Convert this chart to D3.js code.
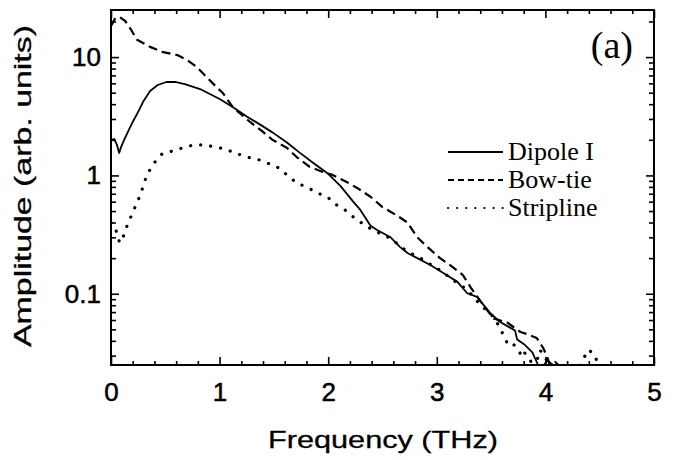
<!DOCTYPE html>
<html>
<head>
<meta charset="utf-8">
<script src="https://cdn.jsdelivr.net/npm/d3@7"></script>
<style>
  body { margin: 0; background: #fff; }
  svg { display: block; }
  .tick text { font-family: "Liberation Sans", Arial, sans-serif; }
</style>
</head>
<body>
<svg id="chart" width="673" height="460"></svg>
<script>
// frequency (THz) and amplitude (arb. units)
var dipoleF = [0, 0.03, 0.055, 0.075, 0.09, 0.12, 0.16, 0.2, 0.25, 0.3, 0.36, 0.43, 0.51, 0.59, 0.68, 0.82,
  1.0, 1.12, 1.25, 1.37, 1.49, 1.62, 1.74, 1.86, 1.99, 2.11, 2.23, 2.29, 2.39, 2.45, 2.57, 2.66, 2.73,
  2.82, 2.94, 3.06, 3.19, 3.28, 3.37, 3.49, 3.58, 3.67, 3.72, 3.74, 3.81, 3.88, 3.92, 3.95, 4.02, 4.07, 4.13, 4.2, 5];
var dipoleA = [1.99, 2.03, 1.81, 1.55, 1.71, 1.99, 2.38, 2.83, 3.44, 4.26, 5.17, 5.81, 6.16, 6.16, 5.92, 5.37,
  4.43, 3.79, 3.15, 2.7, 2.3, 1.9, 1.55, 1.28, 1.05, 0.82, 0.6, 0.52, 0.375, 0.346, 0.302, 0.249, 0.221,
  0.2, 0.175, 0.15, 0.126, 0.101, 0.094, 0.069, 0.058, 0.052, 0.049, 0.041, 0.037, 0.032, 0.0265, 0.023, 0.0272, 0.025, 0.023, 0.02, 0.02];

var bowtieF = [0, 0.04, 0.08, 0.13, 0.175, 0.24, 0.36, 0.48, 0.61, 0.7, 0.79, 0.88, 0.98, 1.03, 1.12, 1.28,
  1.4, 1.49, 1.62, 1.71, 1.83, 1.95, 2.04, 2.17, 2.27, 2.39, 2.5, 2.63, 2.73, 2.82, 2.91, 3.03, 3.12,
  3.24, 3.31, 3.4, 3.52, 3.65, 3.77, 3.83, 3.92, 3.98, 4.02, 4.04, 4.09, 4.13, 4.23, 5];
var bowtieA = [18.3, 21.4, 21.8, 20.2, 17.6, 14.0, 12.2, 11.0, 10.4, 9.46, 8.25, 6.79, 5.48, 4.97, 3.79, 2.83,
  2.33, 1.99, 1.71, 1.43, 1.18, 1.07, 1.01, 0.88, 0.78, 0.66, 0.54, 0.46, 0.4, 0.3, 0.25, 0.2, 0.175,
  0.144, 0.114, 0.087, 0.062, 0.057, 0.0475, 0.0457, 0.0423, 0.0348, 0.0286, 0.025, 0.0265, 0.0245, 0.023, 0.02];

var striplineF = [0, 0.045, 0.08, 0.12, 0.15, 0.19, 0.23, 0.27, 0.3, 0.33, 0.39, 0.47, 0.57, 0.66, 0.76, 0.86,
  0.96, 1.05, 1.14, 1.25, 1.34, 1.44, 1.53, 1.62, 1.71, 1.8, 1.9, 1.99, 2.08, 2.17, 2.25, 2.32, 2.41,
  2.57, 2.73, 2.85, 3.03, 3.19, 3.28, 3.4, 3.52, 3.58, 3.65, 3.69, 3.75, 3.79, 3.81, 3.86, 3.9, 3.95,
  4.0, 4.06, 4.32, 4.39, 4.44, 4.48, 4.52, 5];
var striplineA = [0.4, 0.346, 0.269, 0.314, 0.381, 0.463, 0.563, 0.684, 0.831, 1.01, 1.25, 1.52, 1.61, 1.71, 1.81, 1.81,
  1.74, 1.67, 1.55, 1.43, 1.38, 1.27, 1.18, 1.01, 0.86, 0.8, 0.71, 0.66, 0.56, 0.5, 0.43, 0.39, 0.346,
  0.296, 0.226, 0.2, 0.158, 0.123, 0.108, 0.081, 0.064, 0.052, 0.038, 0.039, 0.0335, 0.029, 0.0316, 0.0275, 0.023, 0.0335,
  0.0286, 0.023, 0.0245, 0.0335, 0.0316, 0.0265, 0.023, 0.02];

var xTicks = [0, 1, 2, 3, 4, 5];
var yTicks = [0.1, 1, 10];
var legendNames = ["Dipole I", "Bow-tie", "Stripline"];

(function() {
var svg = d3.select("#chart");
var left = 111, right = 654, top = 10, bottom = 365;

var x = d3.scaleLinear().domain([0, 5]).range([left, right]);
var y = d3.scaleLog().domain([0.025, 25]).range([bottom, top]);

var xMinor = d3.range(0, 5.001, 0.2).filter(function(d) { return Math.abs(d - Math.round(d)) > 0.01; });
var yMinor = [];
[0.01, 0.1, 1, 10].forEach(function(p) {
  for (var k = 2; k <= 9; k++) {
    var v = k * p;
    if (v >= 0.025 && v <= 25) yMinor.push(v);
  }
});

svg.append("clipPath").attr("id", "plot")
  .append("rect").attr("x", left).attr("y", top).attr("width", right - left).attr("height", bottom - top);

function styleAxis(g) {
  g.select(".domain").remove();
  g.selectAll("line").attr("stroke", "#000").attr("stroke-width", 1.6);
}

function styleLabels(sel) {
  sel.attr("font-size", 26).attr("fill", "#000").attr("stroke", "#000").attr("stroke-width", 0.5);
}

// ticks on all four sides, pointing inward
svg.append("g").attr("transform", "translate(0," + bottom + ")")
  .call(d3.axisBottom(x).tickValues(xTicks).tickSize(-8).tickPadding(18).tickFormat(d3.format("d")))
  .call(styleAxis)
  .selectAll("text").call(styleLabels);
svg.append("g").attr("transform", "translate(0," + bottom + ")")
  .call(d3.axisBottom(x).tickValues(xMinor).tickSize(-4).tickFormat(""))
  .call(styleAxis);
svg.append("g").attr("transform", "translate(0," + top + ")")
  .call(d3.axisTop(x).tickValues(xTicks).tickSize(-8).tickFormat(""))
  .call(styleAxis);
svg.append("g").attr("transform", "translate(0," + top + ")")
  .call(d3.axisTop(x).tickValues(xMinor).tickSize(-4).tickFormat(""))
  .call(styleAxis);

svg.append("g").attr("transform", "translate(" + left + ",0)")
  .call(d3.axisLeft(y).tickValues(yTicks).tickSize(-8).tickPadding(10).tickFormat(function(d) { return d < 1 ? "0.1" : d3.format("d")(d); }))
  .call(styleAxis)
  .selectAll("text").call(styleLabels);
svg.append("g").attr("transform", "translate(" + left + ",0)")
  .call(d3.axisLeft(y).tickValues(yMinor).tickSize(-5).tickFormat(""))
  .call(styleAxis);
svg.append("g").attr("transform", "translate(" + right + ",0)")
  .call(d3.axisRight(y).tickValues(yTicks).tickSize(-8).tickFormat(""))
  .call(styleAxis);
svg.append("g").attr("transform", "translate(" + right + ",0)")
  .call(d3.axisRight(y).tickValues(yMinor).tickSize(-5).tickFormat(""))
  .call(styleAxis);

svg.append("rect")
  .attr("x", left).attr("y", top).attr("width", right - left).attr("height", bottom - top)
  .attr("fill", "none").attr("stroke", "#000").attr("stroke-width", 2);

var line = d3.line()
  .x(function(d) { return x(d[0]); })
  .y(function(d) { return y(d[1]); });

var series = [
  { f: dipoleF, a: dipoleA, dash: null, width: 1.8, cap: "butt" },
  { f: bowtieF, a: bowtieA, dash: "9,5", width: 2.2, cap: "butt" },
  { f: striplineF, a: striplineA, dash: "0.1,10", width: 3.2, cap: "round" }
];

var curves = svg.append("g").attr("clip-path", "url(#plot)");
series.forEach(function(s) {
  curves.append("path")
    .datum(d3.zip(s.f, s.a))
    .attr("d", line)
    .attr("fill", "none")
    .attr("stroke", "#000")
    .attr("stroke-width", s.width)
    .attr("stroke-linecap", s.cap)
    .attr("stroke-linejoin", "round")
    .attr("stroke-dasharray", s.dash);
});

// legend
var legend = svg.append("g");
legendNames.forEach(function(name, i) {
  var s = series[i], ly = 152 + i * 28;
  legend.append("line")
    .attr("x1", 448).attr("x2", 503).attr("y1", ly).attr("y2", ly)
    .attr("stroke", "#000").attr("stroke-width", i === 2 ? 2.2 : 1.8)
    .attr("stroke-linecap", s.cap)
    .attr("stroke-dasharray", s.dash ? (i === 2 ? "0.1,9" : "6,4") : null);
  legend.append("text")
    .attr("x", 508).attr("y", ly + 8)
    .attr("font-family", "Liberation Serif, Times New Roman, serif")
    .attr("font-size", 26)
    .text(name);
});

svg.append("text")
  .attr("x", 633).attr("y", 58)
  .attr("text-anchor", "end")
  .attr("font-family", "Liberation Serif, Times New Roman, serif")
  .attr("font-size", 38)
  .text("(a)");

svg.append("text")
  .attr("x", 268).attr("y", 448)
  .attr("textLength", 230).attr("lengthAdjust", "spacingAndGlyphs")
  .attr("font-family", "Liberation Sans, Arial, sans-serif")
  .attr("font-size", 24)
  .attr("stroke", "#000").attr("stroke-width", 0.3)
  .text("Frequency (THz)");

svg.append("text")
  .attr("transform", "translate(31,347) rotate(-90)")
  .attr("textLength", 322).attr("lengthAdjust", "spacingAndGlyphs")
  .attr("font-family", "Liberation Sans, Arial, sans-serif")
  .attr("font-size", 24)
  .attr("stroke", "#000").attr("stroke-width", 0.3)
  .text("Amplitude (arb. units)");
})();
</script>
</body>
</html>
